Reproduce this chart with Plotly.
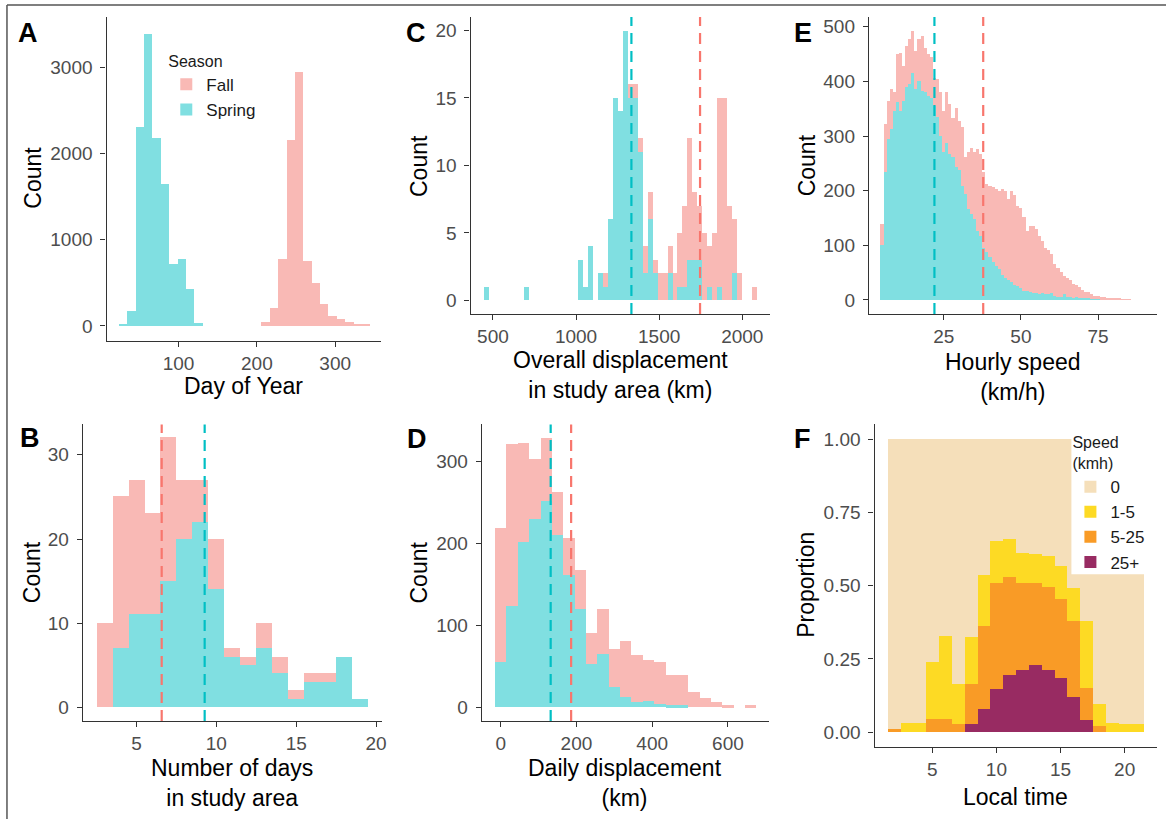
import plotly.graph_objects as go
import numpy as np

W, H = 1171, 819

# ---------------- data ----------------
# A: Day of year
doy_bins = [28.6, 39.3, 50.0, 60.7, 71.4, 82.1, 92.8, 103.5, 114.2, 124.9,
            135.6, 146.3, 157.0, 167.7, 178.4, 189.1, 199.8, 210.5, 221.2, 231.9,
            242.6, 253.3, 264.0, 274.7, 285.4, 296.1, 306.8, 317.5, 328.2, 338.9]
doy_spring = [27, 173, 2308, 3392, 2181, 1642, 723, 781, 431, 38,
              0, 0, 0, 0, 0, 0, 0, 0, 0, 0, 0, 0, 0, 0, 0, 0, 0, 0, 0, 0]
doy_fall = [0, 0, 0, 0, 0, 0, 0, 0, 0, 0, 0, 0, 0, 0, 0, 0, 0,
            50, 212, 781, 2154, 2950, 750, 500, 250, 115, 77, 50, 27, 19]

# B: Number of days in study area
days_bins = [3, 4, 5, 6, 7, 8, 9, 10, 11, 12, 13, 14, 15, 16, 17, 18, 19]
days_fall = [10, 25, 27, 23, 32, 27, 27, 20, 7, 6, 10, 6, 2, 4, 4, 0, 0]
days_spring = [0, 7, 11, 11, 15, 20, 22, 14, 6, 5, 7, 4, 1, 3, 3, 6, 1]
days_mean_fall, days_mean_spring = 6.58, 9.27

# C: Overall displacement in study area (km)
disp_bins = [461, 491, 521, 550, 580, 610, 640, 670, 699, 729, 759, 789, 819, 848,
             878, 908, 938, 968, 997, 1027, 1057, 1087, 1117, 1146, 1176, 1206, 1236,
             1266, 1295, 1325, 1355, 1385, 1415, 1444, 1474, 1504, 1534, 1564, 1593,
             1623, 1653, 1683, 1713, 1742, 1772, 1802, 1832, 1862, 1891, 1921, 1951,
             1981, 2011, 2040, 2070]
disp_spring = [1, 0, 0, 0, 0, 0, 0, 0, 1, 0, 0, 0, 0, 0, 0, 0, 0, 0, 0,
               3, 1, 4, 0, 2, 1, 6, 15, 14, 20, 15, 15, 11, 2, 6, 2, 0, 0, 2, 0,
               1, 1, 3, 3, 3, 0, 1, 0, 1, 0, 0, 2, 0, 0, 0, 0]
disp_fall = [0, 0, 0, 0, 0, 0, 0, 0, 0, 0, 0, 0, 0, 0, 0, 0, 0, 0, 0, 0, 0, 0, 0, 0,
             2, 0, 0, 0, 0, 16, 16, 12, 4, 8, 3, 2, 2, 4, 2, 5, 7, 12, 8, 7, 5, 4, 5,
             15, 15, 7, 6, 2, 0, 0, 1]
disp_mean_spring, disp_mean_fall = 1333, 1746

# D: Daily displacement (km)
daily_bins = [0, 30, 60, 90, 120, 150, 180, 210, 240, 270, 300, 330, 360, 390,
              420, 450, 480, 510, 540, 570, 600, 630, 660]
daily_fall = [218, 321, 322, 303, 329, 262, 206, 167, 90, 120, 71, 81, 63, 58,
              55, 39, 39, 18, 11, 6, 2, 0, 2]
daily_spring = [55, 124, 202, 230, 252, 210, 161, 120, 53, 65, 25, 12, 6, 8,
                4, 2, 2, 0, 0, 0, 0, 0, 0]
daily_mean_spring, daily_mean_fall = 132, 186

# E: Hourly speed (km/h), bins centred on 5..85
speed_bins = list(range(5, 86))
speed_fall = [139, 322, 364, 386, 380, 450, 453, 429, 465, 477, 493, 456, 477, 483,
              462, 450, 444, 407, 404, 380, 346, 380, 359, 334, 352, 328, 316, 261,
              270, 279, 270, 276, 267, 234, 212, 209, 206, 203, 200, 203, 200, 185,
              200, 192, 172, 169, 151, 127, 136, 136, 130, 118, 108, 95, 92, 85, 65,
              58, 52, 44, 40, 36, 30, 28, 24, 18, 15, 14, 10, 8, 7, 6, 5, 4, 3, 3,
              2, 2, 1, 1, 1]
speed_spring = [101, 234, 295, 313, 346, 362, 346, 365, 389, 395, 416, 386, 401, 383,
                380, 374, 370, 355, 335, 300, 270, 288, 267, 262, 243, 237, 209, 194,
                166, 157, 148, 127, 118, 96, 87, 78, 69, 63, 57, 45, 40, 36, 33, 28,
                25, 22, 17, 16, 15, 12, 12, 11, 12, 10, 10, 13, 7, 6, 6, 10, 5, 5, 4,
                5, 4, 3, 2, 2, 1, 1, 1, 0, 0, 0, 0, 0, 0, 0, 0, 0, 0]
speed_mean_spring, speed_mean_fall = 22.0, 37.8

# F: Proportion of hours by speed class per local hour
hours = [2, 3, 4, 5, 6, 7, 8, 9, 10, 11, 12, 13, 14, 15, 16, 17, 18, 19, 20, 21]
prop_25plus = [0, 0, 0, 0, 0, 0, 0.025, 0.078, 0.144, 0.195, 0.212, 0.228, 0.212,
               0.184, 0.117, 0.040, 0, 0, 0, 0]
prop_5_25 = [0.010, 0, 0, 0.042, 0.042, 0.025, 0.136, 0.281, 0.363, 0.334, 0.295,
             0.279, 0.283, 0.268, 0.259, 0.110, 0.019, 0, 0, 0]
prop_1_5 = [0, 0.028, 0.028, 0.196, 0.283, 0.136, 0.161, 0.176, 0.144, 0.129, 0.104,
            0.098, 0.105, 0.115, 0.114, 0.226, 0.074, 0.028, 0.025, 0.025]
prop_0 = [0.990, 0.972, 0.972, 0.762, 0.675, 0.839, 0.678, 0.465, 0.349, 0.342, 0.389,
          0.395, 0.400, 0.433, 0.510, 0.624, 0.907, 0.972, 0.975, 0.975]
speed_classes = ["0", "1-5", "5-25", "25+"]

# ---------------- styles ----------------
FALL = "rgb(249,185,181)"
SPRING = "rgb(128,223,225)"
FALL_LINE = "#F8766D"
SPRING_LINE = "#00BFC4"
F_COLORS = {"0": "rgb(245,223,186)", "1-5": "rgb(253,218,36)",
            "5-25": "rgb(249,155,38)", "25+": "rgb(152,43,98)"}
FONT = "Liberation Sans, Arial, sans-serif"


def px(x):
    return x / W


def py(y):
    return 1 - y / H


# pixel boxes of panels: (left, right), (top, bottom)
boxes = {
    "A": ((107, 383), (16, 340)),
    "B": ((83.3, 383.3), (424, 721)),
    "C": ((472.7, 773), (16, 313.3)),
    "D": ((484, 772.7), (424, 721)),
    "E": ((872.7, 1161.7), (16, 313.3)),
    "F": ((878.3, 1161.7), (424, 746.7)),
}
axis_ids = {"A": "", "B": "2", "C": "3", "D": "4", "E": "5", "F": "6"}

fig = go.Figure()


def add_hist(panel, bins, fall, spring, width, legend=False):
    k = axis_ids[panel]
    fig.add_trace(go.Bar(x=bins, y=fall, width=width, name="Fall",
                         marker=dict(color=FALL, line=dict(width=0)),
                         xaxis="x" + k, yaxis="y" + k, showlegend=legend,
                         legend="legend"))
    fig.add_trace(go.Bar(x=bins, y=spring, width=width, name="Spring",
                         marker=dict(color=SPRING, line=dict(width=0)),
                         xaxis="x" + k, yaxis="y" + k, showlegend=legend,
                         legend="legend"))


add_hist("A", doy_bins, doy_fall, doy_spring, 10.7, legend=True)
add_hist("B", days_bins, days_fall, days_spring, 1)
add_hist("C", disp_bins, disp_fall, disp_spring, 29.8)
add_hist("D", daily_bins, daily_fall, daily_spring, 30)
add_hist("E", speed_bins, speed_fall, speed_spring, 1)

# F stacked via base
p25 = np.array(prop_25plus)
p525 = np.array(prop_5_25)
p15 = np.array(prop_1_5)
p0 = np.array(prop_0)
stack = {"25+": (p25, np.zeros_like(p25)),
         "5-25": (p525, p25),
         "1-5": (p15, p25 + p525),
         "0": (p0, p25 + p525 + p15)}
for name in speed_classes:
    vals, base = stack[name]
    fig.add_trace(go.Bar(x=hours, y=vals, base=base, width=1, name=name,
                         marker=dict(color=F_COLORS[name], line=dict(width=0)),
                         xaxis="x6", yaxis="y6", legend="legend2"))

# ---------------- axes ----------------
ranges = {
    "A": ([8, 359], [-171, 3586], [100, 200, 300], [0, 1000, 2000, 3000], None),
    "B": ([1.65, 20.35], [-1.6, 33.6], [5, 10, 15, 20], [0, 10, 20, 30], None),
    "C": ([366, 2165], [-1.0, 21.0], [500, 1000, 1500, 2000], [0, 5, 10, 15, 20], None),
    "D": ([-49.5, 709.5], [-16.5, 345.5], [0, 200, 400, 600], [0, 100, 200, 300], None),
    "E": ([0.8, 94], [-25.6, 518], [25, 50, 75], [0, 100, 200, 300, 400, 500], None),
    "F": ([0.5, 22.5], [-0.05, 1.05], [5, 10, 15, 20], [0, 0.25, 0.5, 0.75, 1.0], ".2f"),
}

common = dict(showline=True, linecolor="#333333", linewidth=1.4, ticks="outside",
              ticklen=5, tickwidth=1.3, tickcolor="#333333", showgrid=False,
              zeroline=False, fixedrange=True,
              tickfont=dict(family=FONT, size=19, color="#4d4d4d"))

layout_axes = {}
for p, ((l, r), (t, b)) in boxes.items():
    k = axis_ids[p]
    xr, yr, xt, yt, fmt = ranges[p]
    layout_axes["xaxis" + k] = dict(common, domain=[px(l), px(r)], range=xr, tickvals=xt,
                                    anchor="y" + k)
    ya = dict(common, domain=[py(b), py(t)], range=yr, tickvals=yt, anchor="x" + k,
              ticklabelstandoff=4)
    if fmt:
        ya["tickformat"] = fmt
    layout_axes["yaxis" + k] = ya

# ---------------- annotations ----------------
ann = []
letters = {"A": (28, 32), "B": (30, 438), "C": (418, 32), "D": (419, 439),
           "E": (806, 32), "F": (806, 439)}
for L, (x, y) in letters.items():
    ann.append(dict(text="<b>%s</b>" % L, x=px(x), y=py(y), xref="paper", yref="paper",
                    showarrow=False, xanchor="center", yanchor="middle",
                    font=dict(family=FONT, size=27, color="black")))

ytitles = {"A": ("Count", 33, 177), "B": ("Count", 32, 572), "C": ("Count", 421, 165),
           "D": ("Count", 421, 572), "E": ("Count", 810, 165), "F": ("Proportion", 810, 585)}
for p, (txt, x, y) in ytitles.items():
    ann.append(dict(text=txt, x=px(x), y=py(y), xref="paper", yref="paper", textangle=-90,
                    showarrow=False, xanchor="center", yanchor="middle",
                    font=dict(family=FONT, size=23, color="black")))

xtitles = {"A": ("Day of Year", 245, 385),
           "B": ("Number of days<br>in study area", 233, 783),
           "C": ("Overall displacement<br>in study area (km)", 623, 374),
           "D": ("Daily displacement<br>(km)", 628, 783),
           "E": ("Hourly speed<br>(km/h)", 1017, 376),
           "F": ("Local time", 1020, 797)}
for p, (txt, x, y) in xtitles.items():
    ann.append(dict(text=txt, x=px(x), y=py(y), xref="paper", yref="paper",
                    showarrow=False, xanchor="center", yanchor="middle",
                    font=dict(family=FONT, size=23, color="black")))

# ---------------- shapes ----------------
shapes = []
vlines = [("B", days_mean_fall, FALL_LINE), ("B", days_mean_spring, SPRING_LINE),
          ("C", disp_mean_spring, SPRING_LINE), ("C", disp_mean_fall, FALL_LINE),
          ("D", daily_mean_spring, SPRING_LINE), ("D", daily_mean_fall, FALL_LINE),
          ("E", speed_mean_spring, SPRING_LINE), ("E", speed_mean_fall, FALL_LINE)]
for p, v, c in vlines:
    k = axis_ids[p]
    shapes.append(dict(type="line", xref="x" + k, yref="y%s domain" % k, x0=v, x1=v,
                       y0=0, y1=1, layer="above",
                       line=dict(color=c, width=2.2, dash="11px,7px")))

# white legend background inside panel F
shapes.append(dict(type="rect", xref="paper", yref="paper", x0=px(1076), x1=px(1165),
                   y0=py(574), y1=py(428), fillcolor="white", line=dict(width=0),
                   layer="above"))
# outer frame
shapes.append(dict(type="line", xref="paper", yref="paper", x0=px(7), x1=px(1171),
                   y0=py(4), y1=py(4), line=dict(color="#555555", width=1.5)))
shapes.append(dict(type="line", xref="paper", yref="paper", x0=px(7), x1=px(7),
                   y0=py(4), y1=py(819), line=dict(color="#555555", width=1.5)))

fig.update_layout(
    width=W, height=H, margin=dict(l=0, r=0, t=0, b=0),
    paper_bgcolor="white", plot_bgcolor="white",
    barmode="overlay", bargap=0,
    font=dict(family=FONT, color="black"),
    annotations=ann, shapes=shapes,
    legend=dict(x=px(167), y=py(45), xanchor="left", yanchor="top",
                bgcolor="rgba(0,0,0,0)", title=dict(text="Season", font=dict(size=16)),
                font=dict(family=FONT, size=17, color="#1a1a1a")),
    legend2=dict(x=px(1075), y=py(427), xanchor="left", yanchor="top",
                 bgcolor="rgba(0,0,0,0)",
                 title=dict(text="Speed<br>(kmh)", font=dict(size=16)),
                 font=dict(family=FONT, size=17, color="#1a1a1a")),
    **layout_axes,
)

fig.write_html("out.html")
